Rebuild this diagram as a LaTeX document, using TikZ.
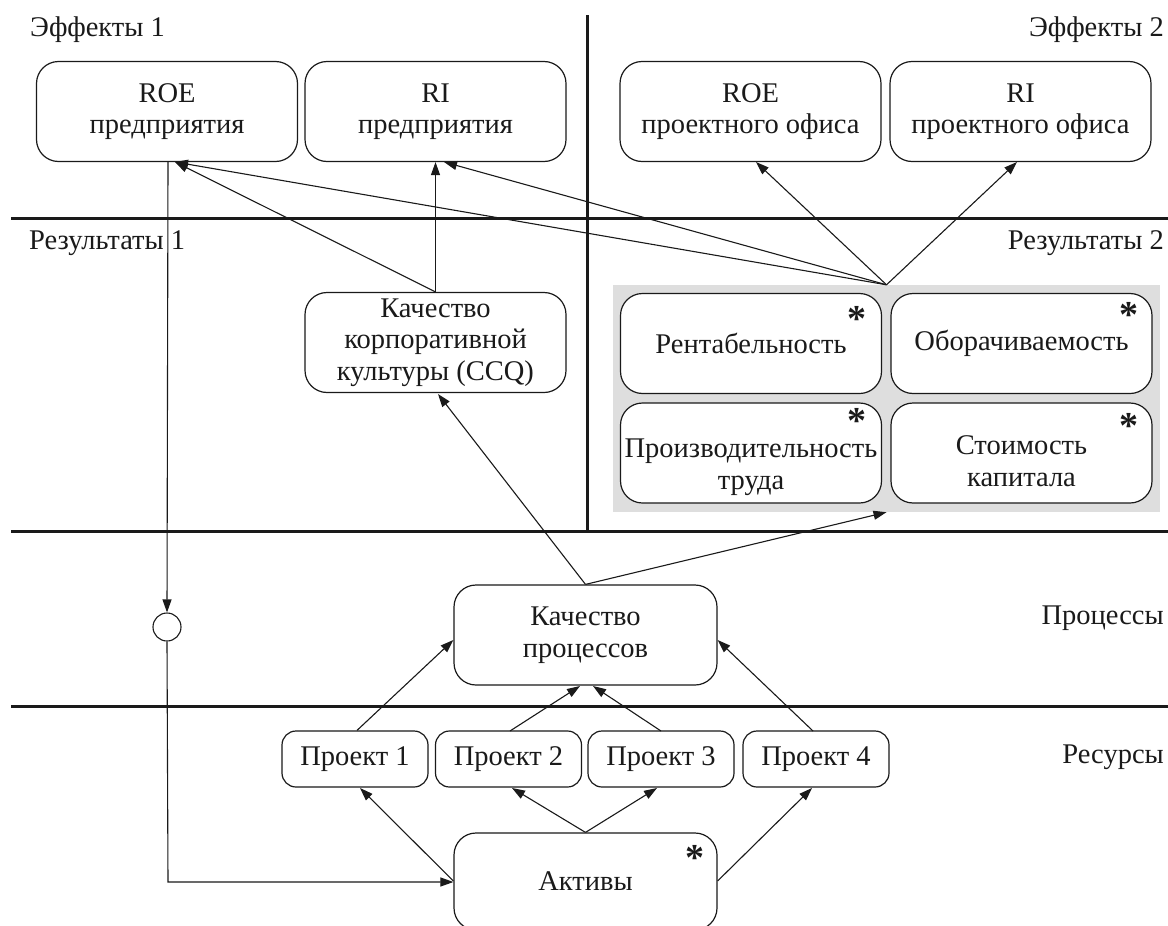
\documentclass[tikz,border=0pt]{standalone}
\usepackage{fontspec}
\setmainfont{Liberation Serif}
\usetikzlibrary{arrows.meta}
\definecolor{grayfill}{HTML}{DEDEDE}
\definecolor{ink}{HTML}{1A1A1A}
\begin{document}
\begin{tikzpicture}[x=1pt,y=-1pt,
  every node/.style={text=ink},
  font=\fontsize{28.5}{31.5}\selectfont,
  box/.style={draw=ink, line width=1.2pt, rounded corners=22pt, fill=white, align=center,
    inner sep=0pt, minimum width=261pt, minimum height=100pt},
  pbox/.style={draw=ink, line width=1.2pt, rounded corners=14pt, fill=white, align=center,
    inner sep=0pt, minimum width=146pt, minimum height=56pt},
  txt/.style={inner sep=0pt, align=center},
  arr/.style={draw=ink, line width=1.1pt, -{Triangle[length=13pt,width=9pt]}},
  ln/.style={draw=ink, line width=1.1pt},
  sep/.style={draw=ink, line width=3pt},
  lbl/.style={inner sep=0pt},
  star/.style={inner sep=0pt, anchor=north, font=\fontsize{38}{38}\selectfont\bfseries}
]
\useasboundingbox (0,0) rectangle (1168,926);
\fill[white] (0,0) rectangle (1168,926);

% separators
\draw[sep] (11,218) -- (1168,218);
\draw[sep] (11,531) -- (1168,531);
\draw[sep] (11,706) -- (1168,706);
\draw[sep] (587,15) -- (587,531);

% lane labels
\node[lbl, anchor=west] (l1) at (30,30) {Эффекты 1};
\node[lbl, anchor=east] (l2) at (1164,30) {Эффекты 2};
\node[lbl, anchor=west] (l3) at (29,243) {Результаты 1};
\node[lbl, anchor=east] (l4) at (1164,243) {Результаты 2};
\node[lbl, anchor=east] (l5) at (1164,618) {Процессы};
\node[lbl, anchor=east] (l6) at (1164,757) {Ресурсы};

% effects
\node[box] (roe1) at (167,111.5) {ROE\\предприятия};
\node[box] (ri1) at (435.5,111.5) {RI\\предприятия};
\node[box] (roe2) at (750.5,111.5) {ROE\\проектного офиса};
\node[box] (ri2) at (1020.5,111.5) {RI\\проектного офиса};

% results
\node[box] (ccq) at (435.5,342.5) {Качество\\корпоративной\\культуры (CCQ)};
\node[fill=grayfill, inner sep=0pt, minimum width=547pt, minimum height=227pt] (grp) at (886.5,398.5) {};
\node[box] (rent) at (751,343.5) {Рентабельность};
\node[box] (obor) at (1021.5,343.5) {Оборачиваемость};
\node[box] (proiz) at (751,453) {};
\node[txt] (proizt) at (751,467) {Производительность\\труда};
\node[box] (stoim) at (1021.5,453) {};
\node[txt] (stoimt) at (1021.5,461) {Стоимость\\капитала};
\node[star] (s1) at (857,306) {*};
\node[star] (s2) at (1129,302) {*};
\node[star] (s3) at (857,408) {*};
\node[star] (s4) at (1129,413) {*};

% processes
\node[box, minimum width=263pt] (kp) at (585.5,635) {Качество\\процессов};
\node[draw=ink, line width=1.1pt, circle, inner sep=0pt, minimum size=28pt, fill=white] (c) at (167,627) {};

% resources
\node[pbox] (p1) at (355,759) {Проект 1};
\node[pbox] (p2) at (508.5,759) {Проект 2};
\node[pbox] (p3) at (661,759) {Проект 3};
\node[pbox] (p4) at (816,759) {Проект 4};
\node[box, minimum width=263pt, minimum height=97pt] (akt) at (585.5,881.5) {Активы};
\node[star] (s5) at (695,845) {*};

% junctions
\coordinate (J) at (grp.north);
\coordinate (roeIn) at (175,162);

% connectors to effects
\draw[arr] (ccq.north) -- (ri1.south);
\draw[arr] (ccq.north) -- (roeIn);
\draw[arr] (J) -- (roeIn);
\draw[arr] (J) -- (444,162);
\draw[arr] (J) -- (756,162);
\draw[arr] (J) -- (1017,162);

% connectors from processes
\draw[arr] (kp.north) -- (438,394);
\draw[arr] (kp.north) -- (grp.south);

% projects to processes
\draw[arr] (p1.north) ++(2,0) -- (kp.west |- 0,640);
\draw[arr] (510,731) -- (580,686);
\draw[arr] (661,731) -- (593,686);
\draw[arr] (813,731) -- (kp.east |- 0,640);

% assets to projects
\draw[arr] (akt.west |- 0,881) -- (360,788);
\draw[arr] (akt.north) -- (512,788);
\draw[arr] (akt.north) -- (657,788);
\draw[arr] (akt.east |- 0,881) -- (812,788);

% loop through circle
\draw[arr] (168,162) -- (c.north);
\draw[arr] (c.south) -- (168,882) -- (akt.west |- 0,882);
\end{tikzpicture}
\end{document}
